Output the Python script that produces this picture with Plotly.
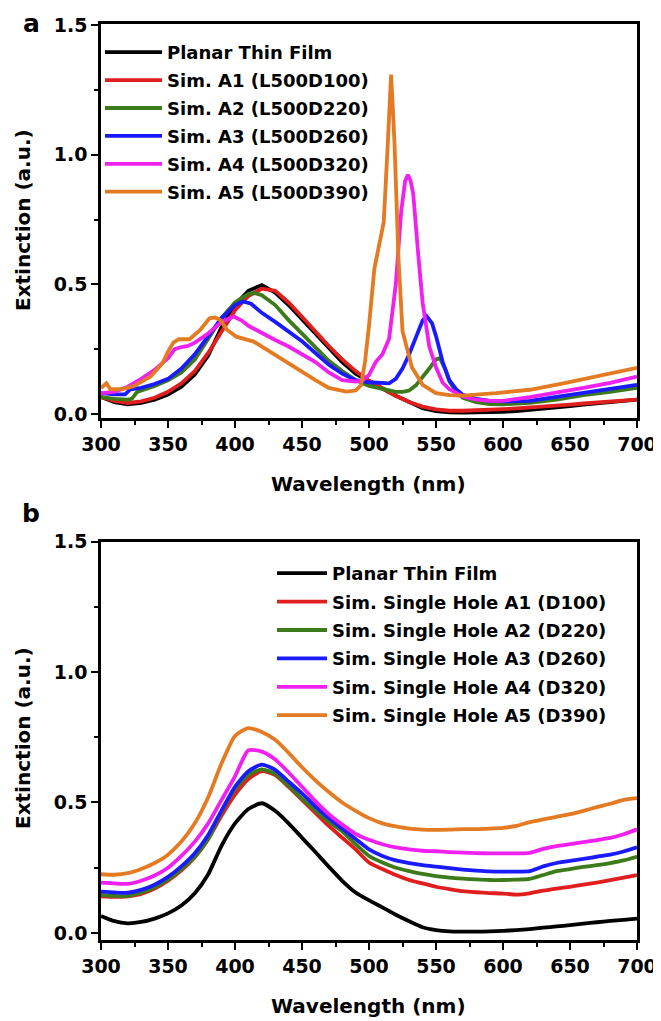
import plotly.graph_objects as go

# ---------------- data ----------------
wl10 = list(range(300, 701, 10))

planar = [0.065, 0.045, 0.037, 0.042, 0.055, 0.075, 0.105, 0.152, 0.225, 0.335,
          0.42, 0.475, 0.497, 0.468, 0.42, 0.365, 0.31, 0.254, 0.2, 0.155,
          0.125, 0.098, 0.07, 0.045, 0.022, 0.011, 0.006, 0.005, 0.005, 0.006,
          0.008, 0.011, 0.015, 0.02, 0.025, 0.03, 0.036, 0.041, 0.046, 0.05, 0.055]

# panel a
a1_wl = wl10
a1_val = [0.065, 0.05, 0.042, 0.048, 0.062, 0.085, 0.118, 0.165, 0.235, 0.32,
          0.40, 0.455, 0.483, 0.475, 0.43, 0.375, 0.318, 0.262, 0.21, 0.165,
          0.128, 0.098, 0.07, 0.046, 0.028, 0.017, 0.012, 0.012, 0.013, 0.015,
          0.018, 0.021, 0.024, 0.028, 0.032, 0.036, 0.04, 0.044, 0.048, 0.051, 0.055]

a2_wl = [300, 310, 320, 323, 327, 330, 340, 350, 360, 370, 380, 390, 400, 410, 415,
         420, 430, 440, 450, 460, 470, 480, 490, 500, 510, 520, 525, 530, 535, 540,
         545, 550, 553, 557, 560, 565, 570, 580, 590, 600, 620, 640, 660, 680, 700]
a2_val = [0.065, 0.058, 0.055, 0.058, 0.085, 0.09, 0.108, 0.13, 0.16, 0.21, 0.29, 0.37,
          0.43, 0.463, 0.466, 0.458, 0.42, 0.362, 0.31, 0.255, 0.205, 0.165, 0.13,
          0.108, 0.095, 0.085, 0.085, 0.09, 0.11, 0.14, 0.175, 0.21, 0.215, 0.17,
          0.125, 0.085, 0.062, 0.045, 0.038, 0.037, 0.042, 0.055, 0.072, 0.085, 0.1]

a3_wl = [300, 310, 318, 322, 330, 340, 350, 360, 370, 380, 390, 400, 406, 412, 420,
         430, 440, 450, 460, 470, 480, 490, 500, 510, 515, 520, 525, 530, 535, 540,
         543, 547, 550, 555, 560, 565, 570, 580, 590, 600, 620, 640, 660, 680, 700]
a3_val = [0.08, 0.075, 0.075, 0.095, 0.1, 0.115, 0.135, 0.175, 0.23, 0.3, 0.37, 0.42,
          0.434, 0.425, 0.39, 0.355, 0.318, 0.28, 0.235, 0.19, 0.155, 0.13, 0.122,
          0.118, 0.118, 0.135, 0.175, 0.23, 0.3, 0.36, 0.377, 0.35, 0.3, 0.2, 0.13,
          0.095, 0.073, 0.058, 0.05, 0.048, 0.05, 0.065, 0.083, 0.098, 0.112]

a4_wl = [300, 310, 320, 330, 340, 350, 355, 360, 365, 370, 380, 390, 399, 405, 410,
         420, 430, 440, 450, 460, 470, 480, 490, 495, 500, 505, 510, 515, 520, 524,
         527, 529, 531, 533, 537, 540, 545, 550, 555, 560, 570, 580, 590, 600, 620,
         640, 660, 680, 700]
a4_val = [0.08, 0.085, 0.105, 0.135, 0.17, 0.215, 0.25, 0.258, 0.262, 0.275, 0.31,
          0.355, 0.376, 0.36, 0.34, 0.311, 0.285, 0.26, 0.232, 0.2, 0.16, 0.13, 0.125,
          0.128, 0.15, 0.2, 0.23, 0.29, 0.5, 0.78, 0.9, 0.923, 0.9, 0.85, 0.6, 0.43,
          0.26, 0.18, 0.12, 0.095, 0.067, 0.055, 0.05, 0.05, 0.065, 0.082, 0.1, 0.12, 0.144]

a5_wl = [300, 302, 304, 307, 315, 324, 330, 337, 346, 350, 354, 358, 366, 374, 381,
         385, 389, 394, 401, 414, 424, 435, 448, 460, 470, 483, 490, 494, 497, 500,
         504, 508, 511, 514, 516.5, 519, 522, 525, 532, 540, 550, 560, 570, 595, 620,
         645, 670, 700]
a5_val = [0.1, 0.11, 0.118, 0.095, 0.095, 0.106, 0.122, 0.144, 0.196, 0.24, 0.275,
          0.288, 0.288, 0.324, 0.369, 0.372, 0.362, 0.325, 0.298, 0.279, 0.247, 0.21,
          0.17, 0.13, 0.1, 0.086, 0.09, 0.11, 0.2, 0.34, 0.56, 0.66, 0.74, 1.04, 1.31,
          1.05, 0.6, 0.32, 0.18, 0.112, 0.08, 0.072, 0.07, 0.08, 0.093, 0.118, 0.144, 0.178]

# panel b (10 nm grid)
b1_val = [0.14, 0.138, 0.14, 0.15, 0.17, 0.2, 0.24, 0.29, 0.36, 0.45, 0.53, 0.59, 0.62,
          0.605, 0.56, 0.51, 0.46, 0.41, 0.365, 0.32, 0.27, 0.245, 0.222, 0.203, 0.19,
          0.177, 0.168, 0.16, 0.156, 0.153, 0.151, 0.147, 0.152, 0.162, 0.17, 0.177,
          0.185, 0.193, 0.202, 0.212, 0.222]
b2_val = [0.146, 0.142, 0.142, 0.155, 0.175, 0.205, 0.245, 0.292, 0.36, 0.465, 0.55,
          0.605, 0.627, 0.61, 0.565, 0.515, 0.47, 0.426, 0.39, 0.34, 0.295, 0.27, 0.25,
          0.237, 0.226, 0.218, 0.212, 0.208, 0.205, 0.203, 0.203, 0.204, 0.207, 0.222,
          0.237, 0.245, 0.253, 0.26, 0.268, 0.278, 0.292]
b3_val = [0.158, 0.155, 0.154, 0.165, 0.185, 0.215, 0.255, 0.305, 0.375, 0.47, 0.56,
          0.62, 0.645, 0.625, 0.58, 0.535, 0.485, 0.44, 0.4, 0.36, 0.32, 0.295, 0.278,
          0.268, 0.26, 0.254, 0.248, 0.243, 0.239, 0.236, 0.235, 0.235, 0.237, 0.255,
          0.268, 0.276, 0.284, 0.292, 0.3, 0.312, 0.328]
b4_val = [0.193, 0.19, 0.188, 0.2, 0.22, 0.25, 0.295, 0.35, 0.42, 0.51, 0.6, 0.7,
          0.695, 0.665, 0.615, 0.56, 0.505, 0.455, 0.415, 0.38, 0.357, 0.34, 0.328,
          0.32, 0.315, 0.313, 0.31, 0.308, 0.306, 0.305, 0.305, 0.305, 0.307, 0.322,
          0.333, 0.34, 0.348, 0.356, 0.364, 0.378, 0.397]
b5_val = [0.225, 0.223, 0.229, 0.245, 0.268, 0.3, 0.35, 0.42, 0.52, 0.65, 0.755, 0.785,
          0.77, 0.74, 0.69, 0.635, 0.585, 0.54, 0.5, 0.468, 0.44, 0.42, 0.408, 0.4,
          0.396, 0.395, 0.396, 0.398, 0.398, 0.4, 0.403, 0.41, 0.425, 0.435, 0.445,
          0.455, 0.468, 0.482, 0.495, 0.51, 0.517]

names_a = ["Planar Thin Film", "Sim. A1 (L500D100)", "Sim. A2 (L500D220)",
           "Sim. A3 (L500D260)", "Sim. A4 (L500D320)", "Sim. A5 (L500D390)"]
names_b = ["Planar Thin Film", "Sim. Single Hole A1 (D100)", "Sim. Single Hole A2 (D220)",
           "Sim. Single Hole A3 (D260)", "Sim. Single Hole A4 (D320)",
           "Sim. Single Hole A5 (D390)"]
colors = ["#000000", "#e01e1e", "#3c7a1a", "#1a1aff", "#f020f0", "#e47a22"]

x_ticks = [300, 350, 400, 450, 500, 550, 600, 650, 700]
y_ticks = [0.0, 0.5, 1.0, 1.5]

# ---------------- figure ----------------
W, H = 661, 1021
OFF = 8  # page body margin: figure sits 8 px right/down in the window
FONT = "DejaVu Sans"
fig = go.Figure()

series_a = [(wl10, planar), (a1_wl, a1_val), (a2_wl, a2_val), (a3_wl, a3_val),
            (a4_wl, a4_val), (a5_wl, a5_val)]
series_b = [planar, b1_val, b2_val, b3_val, b4_val, b5_val]

for i, (xs, ys) in enumerate(series_a):
    fig.add_trace(go.Scatter(x=xs, y=ys, mode="lines", name=names_a[i],
                             line=dict(color=colors[i], width=3.8),
                             legendgroup="a%d" % i,
                             xaxis="x", yaxis="y", legend="legend"))
for i, ys in enumerate(series_b):
    fig.add_trace(go.Scatter(x=wl10, y=ys, mode="lines", name=names_b[i],
                             line=dict(color=colors[i], width=3.8, shape="spline",
                                       smoothing=0.6),
                             legendgroup="b%d" % i,
                             xaxis="x2", yaxis="y2", legend="legend2"))


def px_x(p):
    return (p - OFF) / W


def px_y(p):
    return 1 - (p - OFF) / H


xdom = [px_x(101), px_x(637)]
ya_dom = [px_y(418), px_y(24)]
yb_dom = [px_y(940), px_y(541.5)]
ya_rng = [-0.016, 1.505]
yb_rng = [-0.027, 1.5]

tickfont = dict(family=FONT, size=19, color="black", weight="bold")
common_x = dict(range=[300, 700], tickvals=x_ticks, ticks="outside", ticklen=7,
                tickwidth=2, tickcolor="black", showline=True, linewidth=2.5,
                linecolor="black", mirror=True, showgrid=False, zeroline=False,
                tickfont=tickfont, automargin=False,
                minor=dict(ticks="outside", dtick=25, tick0=300, ticklen=4,
                           tickwidth=2, tickcolor="black", showgrid=False))
common_y = dict(tickvals=y_ticks, ticktext=["0.0", "0.5", "1.0", "1.5"], ticks="outside",
                ticklen=7, tickwidth=2, tickcolor="black", showline=True, linewidth=2.5,
                linecolor="black", mirror=True, showgrid=False, zeroline=False,
                tickfont=tickfont, automargin=False,
                minor=dict(ticks="outside", dtick=0.25, tick0=0, ticklen=4,
                           tickwidth=2, tickcolor="black", showgrid=False))
over_x = dict(range=[300, 700], tickvals=x_ticks, ticks="inside", ticklen=7,
              tickwidth=2, tickcolor="black", showticklabels=False, showline=False,
              showgrid=False, zeroline=False, side="top", automargin=False,
              minor=dict(ticks="inside", dtick=25, tick0=300, ticklen=4,
                         tickwidth=2, tickcolor="black", showgrid=False))
over_y = dict(tickvals=y_ticks, ticks="inside", ticklen=7, tickwidth=2,
              tickcolor="black", showticklabels=False, showline=False,
              showgrid=False, zeroline=False, side="right", automargin=False,
              minor=dict(ticks="inside", dtick=0.25, tick0=0, ticklen=4,
                         tickwidth=2, tickcolor="black", showgrid=False))

legfont = dict(family=FONT, size=18, color="black", weight="bold")

fig.update_layout(
    width=W, height=H,
    margin=dict(l=0, r=0, t=0, b=0, pad=0, autoexpand=False),
    paper_bgcolor="white", plot_bgcolor="white",
    showlegend=True,
    xaxis=dict(domain=xdom, anchor="y", **common_x),
    yaxis=dict(domain=ya_dom, anchor="x", range=ya_rng, **common_y),
    xaxis2=dict(domain=xdom, anchor="y2", **common_x),
    yaxis2=dict(domain=yb_dom, anchor="x2", range=yb_rng, **common_y),
    xaxis3=dict(overlaying="x", anchor="y", **over_x),
    yaxis3=dict(overlaying="y", anchor="x", range=ya_rng, **over_y),
    xaxis4=dict(overlaying="x2", anchor="y2", **over_x),
    yaxis4=dict(overlaying="y2", anchor="x2", range=yb_rng, **over_y),
    legend=dict(x=px_x(100), y=px_y(34), xanchor="left", yanchor="top",
                bgcolor="rgba(0,0,0,0)", font=legfont, itemwidth=57,
                tracegroupgap=1.5),
    legend2=dict(x=px_x(272), y=px_y(555), xanchor="left", yanchor="top",
                 bgcolor="rgba(0,0,0,0)", font=legfont, itemwidth=50,
                 tracegroupgap=2),
)

title_font = dict(family=FONT, size=20, color="black", weight="bold")
ann = [
    dict(text="Extinction (a.u.)", x=px_x(23), y=px_y(220), textangle=-90),
    dict(text="Extinction (a.u.)", x=px_x(23), y=px_y(738), textangle=-90),
    dict(text="Wavelength (nm)", x=px_x(368), y=px_y(484)),
    dict(text="Wavelength (nm)", x=px_x(368), y=px_y(1006)),
]
for a in ann:
    fig.add_annotation(xref="paper", yref="paper", showarrow=False,
                       xanchor="center", yanchor="middle", font=title_font, **a)
panel_font = dict(family=FONT, size=25, color="black", weight="bold")
fig.add_annotation(text="a", x=px_x(31), y=px_y(24), xref="paper", yref="paper",
                   showarrow=False, xanchor="center", yanchor="middle", font=panel_font)
fig.add_annotation(text="b", x=px_x(31), y=px_y(513), xref="paper", yref="paper",
                   showarrow=False, xanchor="center", yanchor="middle", font=panel_font)

fig.write_html("out.html")
